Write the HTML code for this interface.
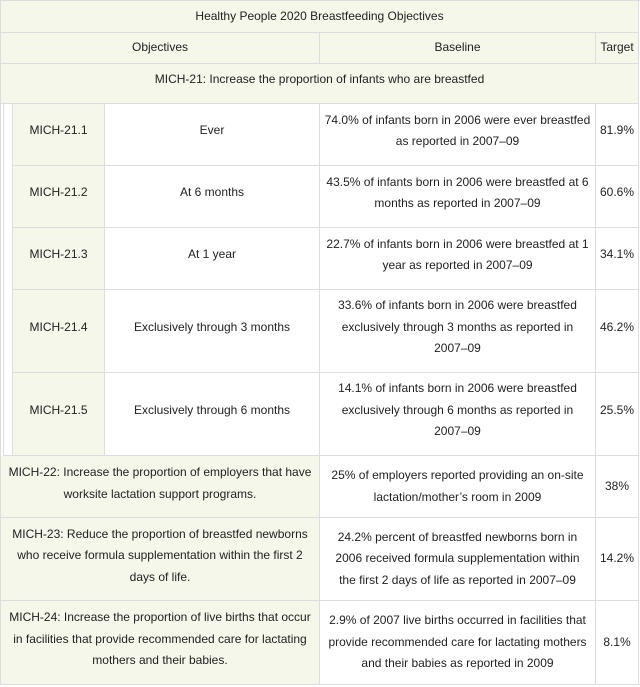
<!DOCTYPE html>
<html><head><style>
body{margin:0;width:640px;height:687px;background:#fff;position:relative;font-family:"Liberation Sans",sans-serif;font-size:12px;color:#222;overflow:hidden}
.c{position:absolute;box-sizing:border-box;display:flex;align-items:center;justify-content:center;text-align:center;line-height:21.5px;border-right:1px solid #ddd;border-bottom:1px solid #ddd;white-space:nowrap}
.g{background:#f4f7e9}
.w{background:#fff}
.u{padding-bottom:7px}
</style></head><body>
<div style="position:absolute;left:0;top:0;width:640px;height:685px;box-sizing:border-box;border:1px solid #ddd;border-right:none"></div>
<div class="c g" style="left:1px;top:1px;width:638px;height:32px;padding-top:1px">Healthy People 2020 Breastfeeding Objectives</div>
<div class="c g" style="left:1px;top:33px;width:319px;height:31px">Objectives</div>
<div class="c g" style="left:320px;top:33px;width:276px;height:31px">Baseline</div>
<div class="c g" style="left:596px;top:33px;width:43px;height:31px">Target</div>
<div class="c g" style="left:1px;top:64px;width:638px;height:40px;padding-bottom:8px">MICH-21: Increase the proportion of infants who are breastfed</div>
<div class="c w" style="top:104px;height:352px;left:3px;width:10px;border-left:1px solid #ddd"></div>

<div class="c g u" style="left:13px;top:104px;width:92px;height:62px">MICH-21.1</div>
<div class="c w u" style="left:105px;top:104px;width:215px;height:62px">Ever</div>
<div class="c w u" style="left:320px;top:104px;width:276px;height:62px">74.0% of infants born in 2006 were ever breastfed<br>as reported in 2007–09</div>
<div class="c w u" style="left:596px;top:104px;width:43px;height:62px">81.9%</div>

<div class="c g u" style="left:13px;top:166px;width:92px;height:62px">MICH-21.2</div>
<div class="c w u" style="left:105px;top:166px;width:215px;height:62px">At 6 months</div>
<div class="c w u" style="left:320px;top:166px;width:276px;height:62px">43.5% of infants born in 2006 were breastfed at 6<br>months as reported in 2007–09</div>
<div class="c w u" style="left:596px;top:166px;width:43px;height:62px">60.6%</div>

<div class="c g u" style="left:13px;top:228px;width:92px;height:62px">MICH-21.3</div>
<div class="c w u" style="left:105px;top:228px;width:215px;height:62px">At 1 year</div>
<div class="c w u" style="left:320px;top:228px;width:276px;height:62px">22.7% of infants born in 2006 were breastfed at 1<br>year as reported in 2007–09</div>
<div class="c w u" style="left:596px;top:228px;width:43px;height:62px">34.1%</div>

<div class="c g u" style="left:13px;top:290px;width:92px;height:83px">MICH-21.4</div>
<div class="c w u" style="left:105px;top:290px;width:215px;height:83px">Exclusively through 3 months</div>
<div class="c w u" style="left:320px;top:290px;width:276px;height:83px">33.6% of infants born in 2006 were breastfed<br>exclusively through 3 months as reported in<br>2007–09</div>
<div class="c w u" style="left:596px;top:290px;width:43px;height:83px">46.2%</div>

<div class="c g u" style="left:13px;top:373px;width:92px;height:83px">MICH-21.5</div>
<div class="c w u" style="left:105px;top:373px;width:215px;height:83px">Exclusively through 6 months</div>
<div class="c w u" style="left:320px;top:373px;width:276px;height:83px">14.1% of infants born in 2006 were breastfed<br>exclusively through 6 months as reported in<br>2007–09</div>
<div class="c w u" style="left:596px;top:373px;width:43px;height:83px">25.5%</div>

<div class="c g" style="left:1px;top:456px;width:319px;height:62px;padding-bottom:6px">MICH-22: Increase the proportion of employers that have<br>worksite lactation support programs.</div>
<div class="c w" style="left:320px;top:456px;width:276px;height:62px">25% of employers reported providing an on-site<br>lactation/mother’s room in 2009</div>
<div class="c w" style="left:596px;top:456px;width:43px;height:62px">38%</div>

<div class="c g" style="left:1px;top:518px;width:319px;height:83px;padding-bottom:6px">MICH-23: Reduce the proportion of breastfed newborns<br>who receive formula supplementation within the first 2<br>days of life.</div>
<div class="c w" style="left:320px;top:518px;width:276px;height:83px">24.2% percent of breastfed newborns born in<br>2006 received formula supplementation within<br>the first 2 days of life as reported in 2007–09</div>
<div class="c w" style="left:596px;top:518px;width:43px;height:83px">14.2%</div>

<div class="c g" style="left:1px;top:601px;width:319px;height:84px;padding-bottom:6px">MICH-24: Increase the proportion of live births that occur<br>in facilities that provide recommended care for lactating<br>mothers and their babies.</div>
<div class="c w" style="left:320px;top:601px;width:276px;height:84px">2.9% of 2007 live births occurred in facilities that<br>provide recommended care for lactating mothers<br>and their babies as reported in 2009</div>
<div class="c w" style="left:596px;top:601px;width:43px;height:84px">8.1%</div>
</body></html>
